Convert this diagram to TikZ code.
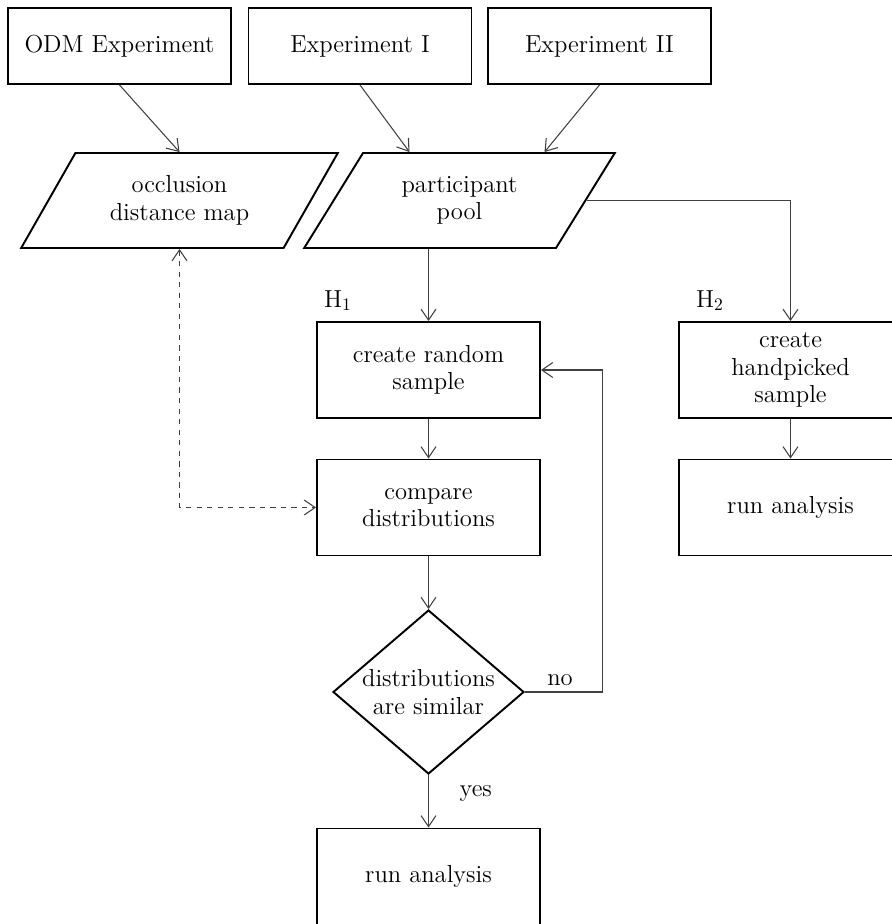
\documentclass[tikz,border=0pt]{standalone}
\usepackage{fontspec}
\usepackage{tikz}
\usetikzlibrary{arrows.meta,positioning,calc,shapes.geometric}

\begin{document}
\begin{tikzpicture}[
  x=0.02cm, y=-0.02cm,
  font=\fontsize{14}{15.7}\selectfont,
  box/.style = {draw, line width=1.1pt, align=center,
                minimum width=4.46cm, minimum height=1.92cm, inner sep=3pt},
  srcbox/.style = {box, minimum height=1.52cm},
  data/.style = {draw, line width=1.1pt, align=center, trapezium,
                 trapezium left angle=56, trapezium right angle=124,
                 trapezium stretches=true, minimum height=1.9cm, inner sep=2pt},
  decide/.style = {draw, line width=1.1pt, align=center, diamond,
                   minimum width=3.82cm, minimum height=3.28cm, inner sep=-3.5pt},
  arr/.style = {-{Straight Barb[length=2.2mm,width=3mm]}, line width=0.6pt, black!75},
  darr/.style = {{Straight Barb[length=2.2mm,width=3mm]}-{Straight Barb[length=2.2mm,width=3mm]},
                 line width=0.6pt, dashed, black!75},
  lbl/.style = {text=black},
]
\useasboundingbox (0,0) rectangle (892,924);

\node[srcbox] at (119.5,46) (odm)  {ODM Experiment};
\node[srcbox] at (360,46)   (exp1) {Experiment I};
\node[srcbox] at (599.5,46) (exp2) {Experiment II};

\node[data, minimum width=6.34cm] at (179.5,200.5) (odmap) {occlusion\\distance map};
\node[data, minimum width=6.22cm] at (459.5,200.5) (pool)  {participant\\pool};

\node[box] at (428.5,370)   (rand) {create random\\sample};
\node[box] at (428.5,507.5) (cmp)  {compare\\distributions};
\node[decide] at (428.5,692) (dia) {distributions\\are similar};
\node[box] at (428.5,876.5) (out)  {run analysis};

\node[box] at (790.5,370)   (hand) {create\\handpicked\\sample};
\node[box] at (790.5,507.5) (runr) {run analysis};

\node[anchor=south west, inner sep=1pt] at ($(rand.north west)+(6,-8)$) (h1) {H$_1$};
\node[anchor=south west, inner sep=1pt] at ($(hand.north west)+(16,-8)$) (h2) {H$_2$};

% inputs
\draw[arr] (odm.south) -- (odmap.north);
\draw[arr] (exp1.south) -- ($(pool.north)+(-50,0)$);
\draw[arr] (exp2.south) -- ($(pool.north)+(85,0)$);

% H1 branch
\draw[arr] (pool.south -| rand.north) -- (rand.north);
\foreach \a/\b in {rand/cmp, cmp/dia, dia/out} {
  \draw[arr] (\a.south) -- (\b.north);
}
\draw[arr] (dia.east) -- node[lbl, above, pos=0.45] {no} ++(78,0) |- (rand.east);
\path (dia.south) -- node[lbl, right=0.5cm, pos=0.35] {yes} (out.north);
\draw[darr] (odmap.south) |- (cmp.west);

% H2 branch
\draw[arr] (pool.east) -| (hand.north);
\draw[arr] (hand.south) -- (runr.north);
\end{tikzpicture}
\end{document}
